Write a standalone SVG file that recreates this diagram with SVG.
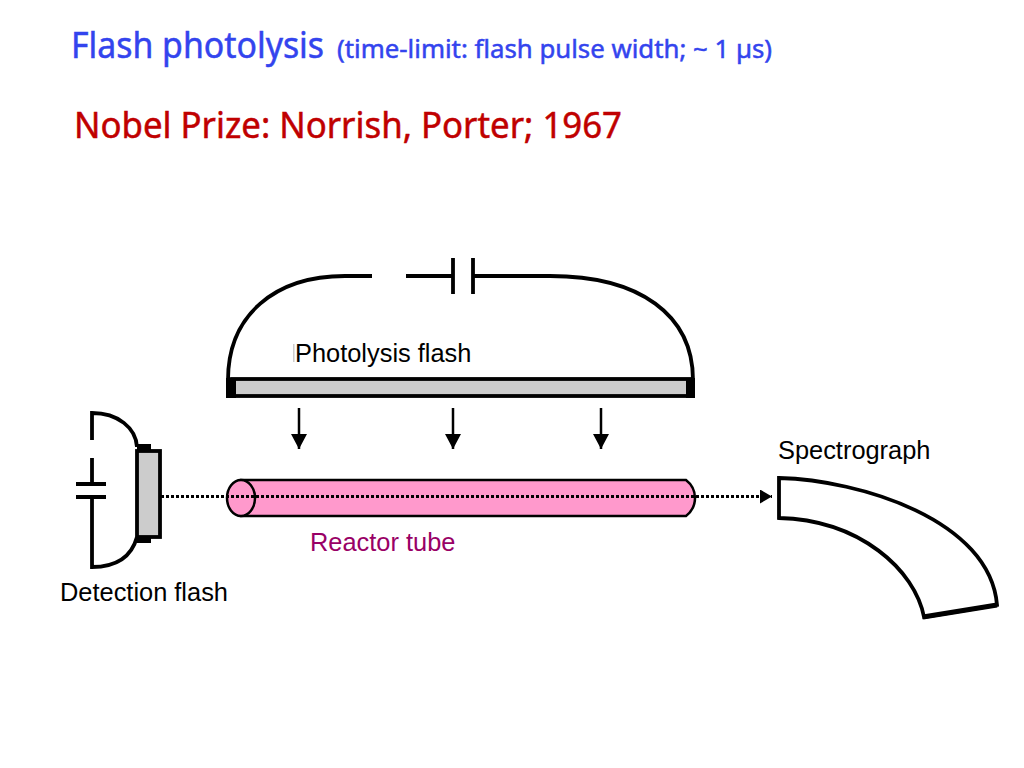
<svg xmlns="http://www.w3.org/2000/svg" width="1024" height="768" viewBox="0 0 1024 768">
<style>
.w{fill:none;stroke:#000;stroke-width:3.8}
.t{font-family:"Noto Sans","DejaVu Sans",sans-serif;stroke-width:.5}
.l{font-family:"Liberation Sans",Arial,sans-serif;font-size:25.400px;fill:#000}
.lamp{fill:#ccc;stroke:#000;stroke-width:3.8}
.a{stroke:#000;stroke-width:2.500;fill:none}
.d{stroke:#000;stroke-width:3;stroke-dasharray:3 2;fill:none}
</style>
<defs>
<marker id="ah" markerUnits="userSpaceOnUse" markerWidth="15" markerHeight="18" refX="15" refY="8" orient="auto"><path d="M0,0L15,8L0,16Z" fill="#000"/></marker>
<marker id="ad" markerUnits="userSpaceOnUse" markerWidth="12" markerHeight="14" refX="12" refY="7" orient="auto"><path d="M0,0L12,7L0,14Z" fill="#000"/></marker>
</defs>
<text class="t" x="71" y="58" font-size="36" fill="#3344ee" stroke="#3344ee" textLength="253" lengthAdjust="spacingAndGlyphs">Flash photolysis</text>
<text class="t" x="337" y="58" font-size="26" fill="#3344ee" stroke="#3344ee" textLength="435" lengthAdjust="spacingAndGlyphs">(time-limit: flash pulse width; ~ 1 µs)</text>
<text class="t" x="74" y="138" font-size="36" fill="#c00000" stroke="#c00000" textLength="548" lengthAdjust="spacingAndGlyphs">Nobel Prize: Norrish, Porter; 1967</text>
<g id="photolysis-flash">
<path class="w" d="M228,380C228,315 275,276 345,276L372,276M406,276H453M473,276H550C640,276 693,315 693,380"/>
<path class="w" d="M453,258V294M473,258V294"/>
<rect class="lamp" x="232" y="379" width="459" height="17"/>
<rect x="226" y="378" width="10" height="20"/>
<rect x="686" y="378" width="9" height="20"/>
<rect x="293" y="344" width="1.500" height="18" fill="#ccc"/>
<text class="l" x="295" y="362">Photolysis flash</text>
</g>
<g id="reactor-tube">
<path d="M241,480H686Q695,487 695,498Q695,509 686,516H241Z" fill="#ff99cc" stroke="#000" stroke-width="2.500"/>
<ellipse cx="241" cy="498" rx="14" ry="18" fill="#ff99cc" stroke="#000" stroke-width="2.500"/>
<text class="l" x="310" y="551" style="fill:#990066">Reactor tube</text>
</g>
<g id="detection-flash">
<path class="w" d="M92,440V413C118,413 136,428 137,447M92,458V484M92,497V567C118,567 132,555 137,537"/>
<path class="w" d="M76,484H106M76,497H106"/>
<rect x="137" y="444" width="14" height="8"/>
<rect x="137" y="536" width="14" height="7"/>
<rect class="lamp" x="137" y="451" width="23" height="86"/>
<text class="l" x="60" y="601">Detection flash</text>
</g>
<g id="spectrograph">
<path class="w" d="M779,478C860,480 990,520 997,605L924,617C915,570 860,520 779,518Z" style="fill:#fff"/>
<path d="M923,617L997,605" stroke="#000" stroke-width="5"/>
<text class="l" x="778" y="459">Spectrograph</text>
</g>
<g id="connectors">
<path class="a" d="M299,408V449" marker-end="url(#ah)"/>
<path class="a" d="M453,408V449" marker-end="url(#ah)"/>
<path class="a" d="M601,408V449" marker-end="url(#ah)"/>
<path class="d" d="M161,496.500H772" marker-end="url(#ad)"/>
</g>
</svg>
